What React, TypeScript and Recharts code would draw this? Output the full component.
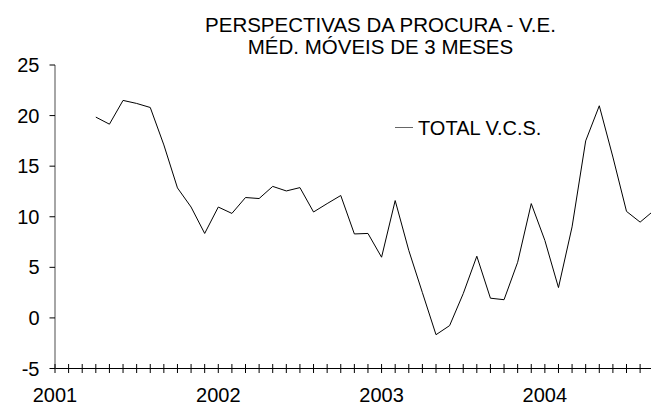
import React from "react";
import { LineChart, Line, XAxis, YAxis, Legend } from "recharts";

// month index 0 = Jan 2001; series starts in Apr 2001
const YEAR_LABELS = ["2001", "2002", "2003", "2004"];
const FIRST_MONTH = 3;
const TOTAL_VCS = [
  19.85, 19.15, 21.5, 21.2, 20.8, 17.1, 12.85, 10.96, 8.35,
  10.96, 10.33, 11.9, 11.8, 13.0, 12.55, 12.88, 10.47, 11.3, 12.1, 8.3, 8.35,
  6.0, 11.6, 6.67, 2.5, -1.66, -0.76, 2.4, 6.1, 1.95, 1.8, 5.5, 11.3,
  7.66, 3.0, 9.0, 17.5, 20.97, 15.9, 10.53, 9.47, 10.6,
];
const Y_TICKS = [-5, 0, 5, 10, 15, 20, 25];
const MONTH_TICKS = Array.from({ length: 44 }, (_, i) => i);

const data = TOTAL_VCS.map((v, i) => ({ m: FIRST_MONTH + i, total: v }));

const FONT = "'Liberation Sans', Arial, sans-serif";

function MonthTick(props: any) {
  const { x, y, payload } = props;
  const m = payload.value;
  const label = m % 12 === 0 ? YEAR_LABELS[m / 12] : null;
  return (
    <g>
      <line x1={x} x2={x} y1={y - 4.5} y2={y + 4.5} stroke="#000" strokeWidth={1} />
      {label && (
        <text x={x} y={y + 33} textAnchor="middle" fontSize={20} fontFamily={FONT} fill="#000">
          {label}
        </text>
      )}
    </g>
  );
}

function LegendBox() {
  return (
    <svg width={170} height={26}>
      <line x1={0} x2={18} y1={12.5} y2={12.5} stroke="#666" strokeWidth={1} />
      <text x={23} y={19.5} fontSize={20} fontFamily={FONT} fill="#000">TOTAL V.C.S.</text>
    </svg>
  );
}

export default function App() {
  return (
    <div style={{ position: "absolute", left: 0, top: 0, width: 651, height: 405, overflow: "hidden", background: "#fff" }}>
      <svg width={651} height={70} style={{ position: "absolute", left: 0, top: 0 }}>
        <text x={380.5} y={32} textAnchor="middle" fontSize={20.5} fontFamily={FONT} fill="#000">
          PERSPECTIVAS DA PROCURA - V.E.
        </text>
        <text x={380.5} y={54} textAnchor="middle" fontSize={20.5} fontFamily={FONT} fill="#000">
          MÉD. MÓVEIS DE 3 MESES
        </text>
      </svg>
      <LineChart width={651} height={405} data={data} margin={{ top: 65, right: 0, bottom: 0, left: 0 }}>
        <XAxis
          dataKey="m"
          type="number"
          domain={[0, 43.8]}
          allowDataOverflow
          ticks={MONTH_TICKS}
          interval={0}
          height={36.5}
          tickLine={false}
          tickSize={0}
          tickMargin={0}
          tick={<MonthTick />}
          axisLine={{ stroke: "#000", strokeWidth: 1 }}
        />
        <YAxis
          domain={[-5, 25]}
          ticks={Y_TICKS}
          interval={0}
          width={55}
          tickSize={5.5}
          tickMargin={10}
          tickLine={{ stroke: "#000" }}
          axisLine={{ stroke: "#888", strokeWidth: 1.5 }}
          tick={{ fontSize: 20, fill: "#000", fontFamily: FONT }}
        />
        <Legend
          layout="horizontal"
          align="center"
          verticalAlign="middle"
          content={() => <LegendBox />}
          wrapperStyle={{ left: 395, top: 115, width: 170 }}
        />
        <Line
          dataKey="total"
          stroke="#000"
          strokeWidth={1}
          dot={false}
          type="linear"
          isAnimationActive={false}
        />
      </LineChart>
    </div>
  );
}
